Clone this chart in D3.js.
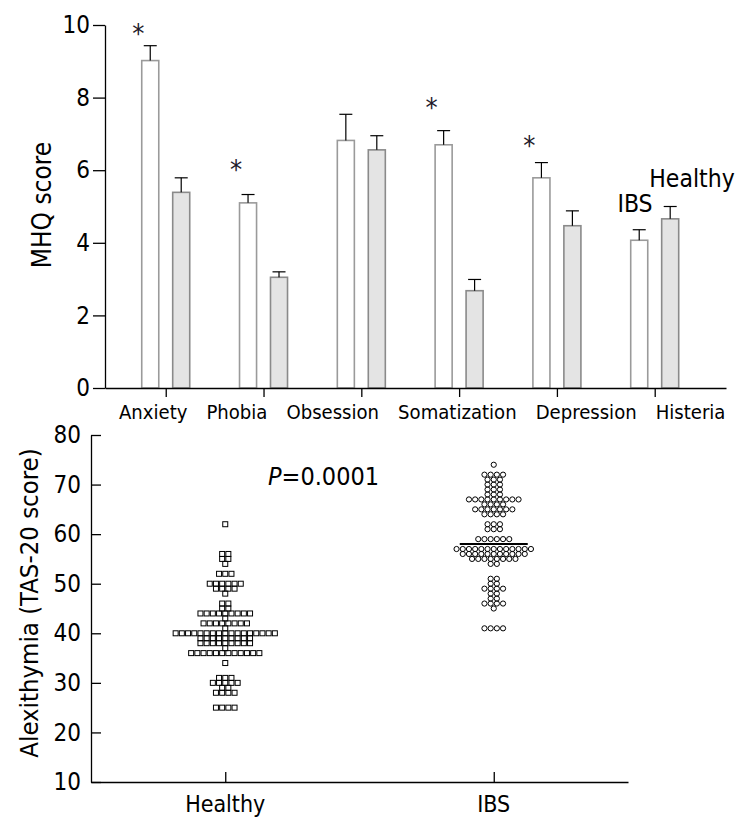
<!DOCTYPE html>
<html><head><meta charset="utf-8">
<script src="https://cdn.jsdelivr.net/npm/d3@7"></script>
<style>body{margin:0;background:#fff} svg{display:block}</style>
</head><body>
<svg id="c" width="753" height="834"></svg>
<script>
// ---------- data : top panel (MHQ) ----------
const categories = ["Anxiety", "Phobia", "Obsession", "Somatization", "Depression", "Histeria"];
const groups = ["IBS", "Healthy"];
const ibsMean = [9.02, 5.10, 6.82, 6.70, 5.79, 4.07];
const ibsSE = [0.41, 0.23, 0.72, 0.39, 0.42, 0.29];
const healthyMean = [5.39, 3.05, 6.56, 2.68, 4.47, 4.66];
const healthySE = [0.40, 0.15, 0.39, 0.31, 0.41, 0.34];
const significance = ["*", "*", "", "*", "*", ""];
const sigLevel = [9.92, 6.17, null, 7.88, 6.83, null];
const topTicks = [0, 2, 4, 6, 8, 10];

// ---------- data : bottom panel (TAS-20) ----------
const scatterGroups = ["Healthy", "IBS"];
const healthyScores = [62, 56, 56, 55, 55, 54, 52, 52, 52, 50, 50, 50, 50, 50, 50, 49, 49, 49, 49, 48,
  46, 46, 45, 45, 44, 44, 44, 44, 44, 44, 44, 44, 44, 43, 42, 42, 42, 42, 42, 42, 42, 42, 41,
  40, 40, 40, 40, 40, 40, 40, 40, 40, 40, 40, 40, 40, 40, 40, 40, 40,
  39, 39, 39, 39, 39, 39, 39, 39, 39, 38, 38, 38, 38, 38, 38, 38, 38, 38, 37,
  36, 36, 36, 36, 36, 36, 36, 36, 36, 36, 36, 36, 34, 31, 31, 31, 30, 30, 30, 30, 30, 29, 29,
  28, 28, 28, 28, 25, 25, 25, 25];
const ibsScores = [74, 72, 72, 72, 72, 71, 71, 71, 70, 70, 70, 69, 69, 69, 68, 68, 68,
  67, 67, 67, 67, 67, 67, 67, 67, 67, 66, 66, 66, 66, 65, 65, 65, 65, 65, 65, 65, 64, 64, 64, 64,
  62, 62, 62, 61, 61, 61, 59, 59, 59, 59, 59, 59,
  57, 57, 57, 57, 57, 57, 57, 57, 57, 57, 57, 57, 57, 56, 56, 56, 56, 56, 56, 56, 56, 56, 56, 56,
  55, 55, 55, 55, 55, 55, 55, 55, 54, 54, 51, 51, 50, 50, 49, 49, 49, 49, 48, 48, 47, 47,
  46, 46, 46, 46, 45, 41, 41, 41, 41];
const groupMedians = [null, 58];
const bottomTicks = [10, 20, 30, 40, 50, 60, 70, 80];
const pText = "=0.0001";

// ---------- drawing ----------
const FONT = "'DejaVu Sans Condensed','DejaVu Sans',sans-serif";
const svg = d3.select("#c").style("font-family", FONT);

// ===== top panel =====
const yTop = d3.scaleLinear().domain([0, 10]).range([388, 25]);
const xTop = d3.scalePoint().domain(categories).range([105, 726]).padding(0.675).align(0.46);
const xSub = d3.scaleBand().domain(groups).range([-24, 24]).paddingInner(0.45);
const bw = xSub.bandwidth();

const barData = [];
categories.forEach((c, i) => {
  barData.push({cat: c, g: "IBS", mean: ibsMean[i], se: ibsSE[i]});
  barData.push({cat: c, g: "Healthy", mean: healthyMean[i], se: healthySE[i]});
});

const topG = svg.append("g");
topG.selectAll("rect.bar").data(barData).join("rect")
  .attr("class", "bar")
  .attr("x", d => xTop(d.cat) + xSub(d.g))
  .attr("y", d => yTop(d.mean))
  .attr("width", bw)
  .attr("height", d => yTop(0) - yTop(d.mean))
  .attr("fill", d => d.g === "IBS" ? "#ffffff" : "#e4e4e4")
  .attr("stroke", d => d.g === "IBS" ? "#9a9a9a" : "#8a8a8a")
  .attr("stroke-width", 1.6);

const eb = topG.selectAll("g.err").data(barData).join("g").attr("class", "err")
  .attr("stroke", "#000").attr("stroke-width", 1.2);
eb.append("line")
  .attr("x1", d => xTop(d.cat) + xSub(d.g) + bw / 2)
  .attr("x2", d => xTop(d.cat) + xSub(d.g) + bw / 2)
  .attr("y1", d => yTop(d.mean))
  .attr("y2", d => yTop(d.mean + d.se));
eb.append("line")
  .attr("x1", d => xTop(d.cat) + xSub(d.g) + bw / 2 - 6.5)
  .attr("x2", d => xTop(d.cat) + xSub(d.g) + bw / 2 + 6.5)
  .attr("y1", d => yTop(d.mean + d.se))
  .attr("y2", d => yTop(d.mean + d.se));

// asterisks
topG.selectAll("text.sig").data(categories.filter((c, i) => significance[i]))
  .join("text").attr("class", "sig")
  .attr("x", c => xTop(c) + xSub("IBS") + bw / 2 - 12)
  .attr("y", c => yTop(sigLevel[categories.indexOf(c)]) + 15)
  .attr("text-anchor", "middle")
  .attr("font-size", 27)
  .attr("fill", "#221a2a")
  .text(c => significance[categories.indexOf(c)]);

// axes
const yAxTop = topG.append("g").attr("transform", "translate(105,0)")
  .call(d3.axisLeft(yTop).tickValues(topTicks).tickFormat(d3.format("d"))
    .tickSize(12).tickPadding(3).tickSizeOuter(0));
const xAxTop = topG.append("g").attr("transform", "translate(0,388)")
  .call(d3.axisBottom(xTop).tickSize(9).tickFormat("").tickSizeOuter(0));
[yAxTop, xAxTop].forEach(a => {
  a.selectAll("path,line").attr("stroke", "#000").attr("stroke-width", 1.3);
});
yAxTop.selectAll("text").attr("font-size", 24).attr("fill", "#000")
  .attr("font-family", FONT);

// category labels laid out as one line
const catText = topG.append("text").attr("x", 119).attr("y", 419)
  .attr("font-size", 20.1).attr("fill", "#000");
catText.selectAll("tspan").data(categories).join("tspan")
  .attr("dx", (d, i) => i === 0 ? 0 : 19)
  .text(d => d);

topG.append("text")
  .attr("transform", "translate(51,205) rotate(-90)")
  .attr("text-anchor", "middle").attr("font-size", 26).text("MHQ score");

// group labels (legend-like annotations)
topG.append("text").attr("x", 635).attr("y", 212).attr("text-anchor", "middle")
  .attr("font-size", 24.5).text(groups[0]);
topG.append("text").attr("x", 692).attr("y", 187).attr("text-anchor", "middle")
  .attr("font-size", 24.5).text(groups[1]);

// ===== bottom panel =====
const yBot = d3.scaleLinear().domain([10, 80]).range([782, 435]);
const xBot = d3.scalePoint().domain(scatterGroups).range([91, 628]).padding(0.5);
const bot = svg.append("g");

const yAxBot = bot.append("g").attr("transform", "translate(91,0)")
  .call(d3.axisLeft(yBot).tickValues(bottomTicks).tickSize(-10).tickPadding(10).tickSizeOuter(0));
const xAxBot = bot.append("g").attr("transform", "translate(0,782)")
  .call(d3.axisBottom(xBot).tickSize(-10).tickFormat("").tickSizeOuter(0));
[yAxBot, xAxBot].forEach(a => {
  a.selectAll("path,line").attr("stroke", "#000").attr("stroke-width", 1.3);
});
yAxBot.selectAll("text").attr("font-size", 24).attr("fill", "#000").attr("font-family", FONT);

bot.selectAll("text.gl").data(scatterGroups).join("text").attr("class", "gl")
  .attr("x", d => xBot(d)).attr("y", 812).attr("text-anchor", "middle")
  .attr("font-size", 23).text(d => d);

bot.append("text")
  .attr("transform", "translate(38,603) rotate(-90)")
  .attr("text-anchor", "middle").attr("font-size", 25.5).text("Alexithymia (TAS-20 score)");

const pt = bot.append("text").attr("x", 268).attr("y", 485).attr("font-size", 25);
pt.append("tspan").attr("font-style", "italic").text("P");
pt.append("tspan").text(pText);

// scatter layout: same-valued points spread in a centred row
const SP = 6.2;
function layout(scores, grp) {
  const counts = d3.rollup(scores, v => v.length, d => d);
  const out = [];
  counts.forEach((n, v) => {
    for (let k = 0; k < n; k++) out.push({v, g: grp, off: (k - (n - 1) / 2) * SP});
  });
  return out;
}
const hPts = layout(healthyScores, "Healthy");
const iPts = layout(ibsScores, "IBS");

bot.selectAll("rect.pt").data(hPts).join("rect").attr("class", "pt")
  .attr("x", d => xBot(d.g) + d.off - 2.5)
  .attr("y", d => yBot(d.v) - 2.5)
  .attr("width", 5).attr("height", 5)
  .attr("fill", "none").attr("stroke", "#000").attr("stroke-width", 1);

bot.selectAll("circle.pt").data(iPts).join("circle").attr("class", "pt")
  .attr("cx", d => xBot(d.g) + d.off)
  .attr("cy", d => yBot(d.v))
  .attr("r", 2.6)
  .attr("fill", "none").attr("stroke", "#000").attr("stroke-width", 1);

bot.selectAll("line.med").data(scatterGroups.filter((g, i) => groupMedians[i] != null)).join("line")
  .attr("class", "med")
  .attr("x1", g => xBot(g) - 34).attr("x2", g => xBot(g) + 34)
  .attr("y1", g => yBot(groupMedians[scatterGroups.indexOf(g)]))
  .attr("y2", g => yBot(groupMedians[scatterGroups.indexOf(g)]))
  .attr("stroke", "#000").attr("stroke-width", 2);
</script>
</body></html>
